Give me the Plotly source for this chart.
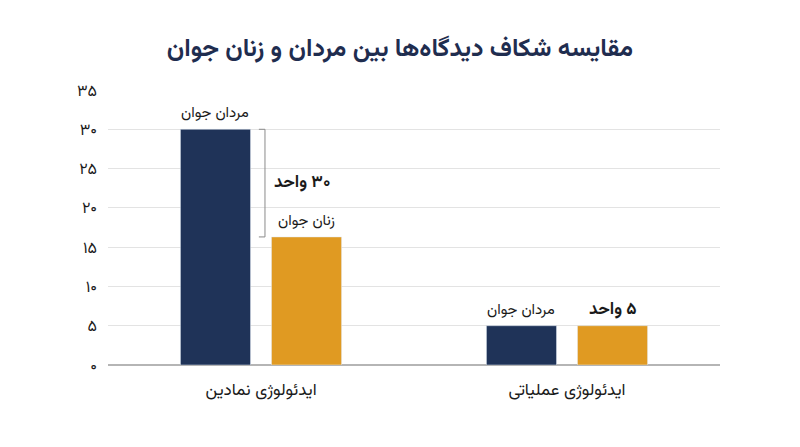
import plotly.graph_objects as go

categories = ["ایدئولوژی نمادین", "ایدئولوژی عملیاتی"]
men_values = [30, 5]
women_values = [16.3, 5]
men_name = "مردان جوان"
women_name = "زنان جوان"
tick_values = [0, 5, 10, 15, 20, 25, 30, 35]
tick_labels = ["۰", "۵", "۱۰", "۱۵", "۲۰", "۲۵", "۳۰", "۳۵"]
gap_labels = ["۳۰ واحد", "۵ واحد"]
title_text = "مقایسه شکاف دیدگاه‌ها بین مردان و زنان جوان"

NAVY = "#1f3358"
ORANGE = "#e09a22"
TEXT = "#1a1a1a"
FONT = "Vazirmatn, DejaVu Sans, sans-serif"

RLE, PDF = "\u202B", "\u202C"

BARGAP = 0.405
fig = go.Figure()
fig.add_trace(go.Bar(x=categories, y=men_values, name=men_name, marker_color=NAVY))
fig.add_trace(go.Bar(x=categories, y=women_values, name=women_name, marker_color=ORANGE))

# per-bar offset within group (category units)
slot = (1 - BARGAP) / 2
men_off = -slot / 2
women_off = slot / 2

lab_font = dict(size=15, color=TEXT, family=FONT)
gap_font = dict(size=17, color=TEXT, family=FONT, weight="bold")
annotations = [
    dict(x=0 + men_off, y=men_values[0], text=men_name, showarrow=False,
         yanchor="bottom", yshift=2, font=lab_font),
    dict(x=0 + women_off, y=women_values[0], text=women_name, showarrow=False,
         yanchor="bottom", yshift=2, font=lab_font),
    dict(x=1 + men_off, y=men_values[1], text=men_name, showarrow=False,
         yanchor="bottom", yshift=2, font=lab_font),
    dict(x=1 + women_off, y=women_values[1], text=RLE + gap_labels[1] + PDF, showarrow=False,
         yanchor="bottom", yshift=1, font=gap_font),
    dict(x=0.135, y=(men_values[0] + women_values[0]) / 2, text=RLE + gap_labels[0] + PDF,
         showarrow=False, xanchor="center", font=gap_font),
]

shapes = []
bx = 0.013
line_style = dict(color="#8a8a8a", width=1)
shapes.append(dict(type="line", xref="x", yref="y", x0=bx, x1=bx, y0=women_values[0], y1=men_values[0], line=line_style))
shapes.append(dict(type="line", xref="x", yref="y", x0=bx - 0.02, x1=bx, y0=men_values[0], y1=men_values[0], line=line_style))
shapes.append(dict(type="line", xref="x", yref="y", x0=bx - 0.02, x1=bx, y0=women_values[0], y1=women_values[0], line=line_style))

fig.update_layout(
    width=800, height=447,
    margin=dict(l=100, r=88, t=82, b=90),
    paper_bgcolor="white", plot_bgcolor="white",
    showlegend=False,
    barmode="group", bargap=BARGAP, bargroupgap=0.23,
    title=dict(text=title_text, x=0.49, xanchor="center", y=0.913, yanchor="middle",
               font=dict(size=25, color="#1f2d4f", family=FONT, weight="bold")),
    font=dict(family=FONT, color=TEXT),
    annotations=annotations,
    shapes=shapes,
    xaxis=dict(showgrid=False, showline=False, ticks="", tickfont=dict(size=17, color=TEXT, family=FONT),
               ticklabelstandoff=12),
    yaxis=dict(range=[0, 35], tickvals=tick_values, ticktext=tick_labels, showgrid=True,
               gridcolor="#e3e3e3", gridwidth=1, zeroline=True, zerolinecolor="#b5b5b5", zerolinewidth=1.5,
               showline=False, ticks="", tickfont=dict(size=16, color=TEXT, family=FONT),
               ticklabelstandoff=10),
)

fig.write_html("out.html")
